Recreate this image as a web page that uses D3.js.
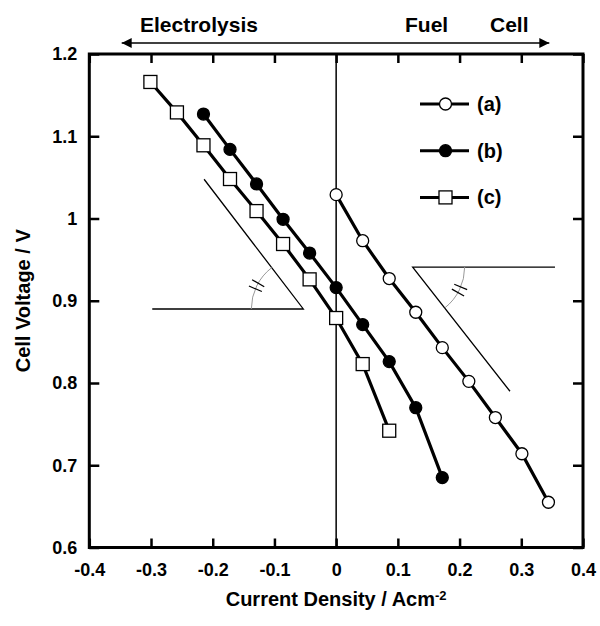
<!DOCTYPE html>
<html lang="en">
<head>
  <meta charset="utf-8">
  <script src="https://cdnjs.cloudflare.com/ajax/libs/d3/7.8.5/d3.min.js"></script>
  <title>Cell Voltage vs Current Density</title>
</head>
<style>
body { margin: 0; background: #fff; }
text { font-family: "Liberation Sans", Arial, Helvetica, sans-serif; font-weight: bold; fill: #000; }
</style>
<body>
<div id="chart"></div>
<script>
  // series (a) open circles
  const currentA = [0, 0.043, 0.086, 0.129, 0.172, 0.215, 0.258, 0.301, 0.344];
  const voltageA = [1.029, 0.973, 0.927, 0.886, 0.843, 0.802, 0.758, 0.714, 0.655];
  // series (b) filled circles
  const currentB = [-0.215, -0.172, -0.129, -0.086, -0.043, 0, 0.043, 0.086, 0.129, 0.172];
  const voltageB = [1.127, 1.084, 1.042, 0.999, 0.958, 0.916, 0.871, 0.826, 0.770, 0.685];
  // series (c) open squares
  const currentC = [-0.301, -0.258, -0.215, -0.172, -0.129, -0.086, -0.043, 0, 0.043, 0.086];
  const voltageC = [1.166, 1.129, 1.089, 1.048, 1.009, 0.969, 0.926, 0.879, 0.823, 0.742];

  const xTicks = [-0.4, -0.3, -0.2, -0.1, 0, 0.1, 0.2, 0.3, 0.4];
  const yTicks = [0.6, 0.7, 0.8, 0.9, 1, 1.1, 1.2];
  const seriesNames = ["(a)", "(b)", "(c)"];

  // slope guides: [far end of hypotenuse, vertex, far end of horizontal], data units
  const slopeLeft = [[-0.214, 1.0477], [-0.0532, 0.89], [-0.298, 0.89]];
  const slopeRight = [[0.2817, 0.790], [0.124, 0.941], [0.3546, 0.941]];

  const width = 600, height = 626;
  const margin = {left: 89.3, right: 17, top: 54, bottom: 78.5};

  const svg = d3.select("#chart").append("svg").attr("width", width).attr("height", height);

  const x = d3.scaleLinear().domain([-0.4, 0.4]).range([margin.left, width - margin.right]);
  const y = d3.scaleLinear().domain([0.6, 1.2]).range([height - margin.bottom, margin.top]);

  const fmt = function(d){ return d === 0 ? "0" : String(+d.toFixed(1)); };

  // axes with inward ticks on all four sides
  svg.append("g").attr("transform", "translate(0," + y(0.6) + ")")
    .call(d3.axisBottom(x).tickValues(xTicks).tickSize(-9).tickPadding(16).tickFormat(fmt))
    .call(function(g){ g.select(".domain").remove(); });
  svg.append("g").attr("transform", "translate(0," + y(1.2) + ")")
    .call(d3.axisTop(x).tickValues(xTicks).tickSize(-9).tickFormat(""))
    .call(function(g){ g.select(".domain").remove(); });
  svg.append("g").attr("transform", "translate(" + x(-0.4) + ",0)")
    .call(d3.axisLeft(y).tickValues(yTicks).tickSize(-10).tickPadding(12).tickFormat(fmt))
    .call(function(g){ g.select(".domain").remove(); });
  svg.append("g").attr("transform", "translate(" + x(0.4) + ",0)")
    .call(d3.axisRight(y).tickValues(yTicks).tickSize(-10).tickFormat(""))
    .call(function(g){ g.select(".domain").remove(); });

  svg.selectAll(".tick line").attr("stroke", "#000").attr("stroke-width", 2.5);
  svg.selectAll(".tick text").style("font-size", "18px").attr("fill", "#000");

  // frame
  svg.append("rect")
    .attr("x", x(-0.4)).attr("y", y(1.2))
    .attr("width", x(0.4) - x(-0.4)).attr("height", y(0.6) - y(1.2))
    .attr("fill", "none").attr("stroke", "#000").attr("stroke-width", 3);

  // zero current line
  svg.append("line")
    .attr("x1", x(0)).attr("x2", x(0)).attr("y1", y(1.2)).attr("y2", y(0.6))
    .attr("stroke", "#000").attr("stroke-width", 1.5);

  // slope guides with angle arc and double hash
  function drawSlope(pts, r){
    const P = pts.map(function(p){ return [x(p[0]), y(p[1])]; });
    svg.append("path")
      .attr("d", "M" + P[0] + "L" + P[1] + "L" + P[2])
      .attr("fill", "none").attr("stroke", "#000").attr("stroke-width", 1.3);
    const v = P[1];
    const a1 = Math.atan2(P[2][1] - v[1], P[2][0] - v[0]);
    let a2 = Math.atan2(P[0][1] - v[1], P[0][0] - v[0]);
    if(a2 - a1 > Math.PI) a2 -= 2 * Math.PI;
    if(a2 - a1 < -Math.PI) a2 += 2 * Math.PI;
    const sweep = a2 > a1 ? 1 : 0;
    const p1 = [v[0] + r * Math.cos(a1), v[1] + r * Math.sin(a1)];
    const p2 = [v[0] + r * Math.cos(a2), v[1] + r * Math.sin(a2)];
    svg.append("path")
      .attr("d", "M" + p1 + "A" + r + "," + r + " 0 0," + sweep + " " + p2)
      .attr("fill", "none").attr("stroke", "#999").attr("stroke-width", 1);
    const am = (a1 + a2) / 2;
    [-0.06, 0.06].forEach(function(da){
      const a = am + da;
      svg.append("line")
        .attr("x1", v[0] + (r - 7) * Math.cos(a)).attr("y1", v[1] + (r - 7) * Math.sin(a))
        .attr("x2", v[0] + (r + 7) * Math.cos(a)).attr("y2", v[1] + (r + 7) * Math.sin(a))
        .attr("stroke", "#000").attr("stroke-width", 1.2);
    });
  }
  drawSlope(slopeLeft, 52);
  drawSlope(slopeRight, 52);

  // series
  const series = [
    {name: seriesNames[0], xs: currentA, ys: voltageA, shape: "circle", fill: "#fff"},
    {name: seriesNames[1], xs: currentB, ys: voltageB, shape: "circle", fill: "#000"},
    {name: seriesNames[2], xs: currentC, ys: voltageC, shape: "square", fill: "#fff"}
  ];

  const line = d3.line().x(function(d){ return x(d[0]); }).y(function(d){ return y(d[1]); });

  function marker(g, shape, fill, cx, cy){
    if(shape === "circle"){
      g.append("circle").attr("cx", cx).attr("cy", cy).attr("r", 6)
        .attr("fill", fill).attr("stroke", "#000").attr("stroke-width", 1.3);
    } else {
      g.append("rect").attr("x", cx - 6.5).attr("y", cy - 6.5).attr("width", 13).attr("height", 13)
        .attr("fill", fill).attr("stroke", "#000").attr("stroke-width", 1.3);
    }
  }

  series.forEach(function(s){
    const pts = s.xs.map(function(v, i){ return [v, s.ys[i]]; });
    svg.append("path").attr("d", line(pts))
      .attr("fill", "none").attr("stroke", "#000").attr("stroke-width", 3.2);
    const g = svg.append("g");
    pts.forEach(function(p){ marker(g, s.shape, s.fill, x(p[0]), y(p[1])); });
  });

  // legend
  const legend = svg.append("g");
  series.forEach(function(s, i){
    const ly = 104 + i * 46.7;
    legend.append("line").attr("x1", 420).attr("x2", 469).attr("y1", ly).attr("y2", ly)
      .attr("stroke", "#000").attr("stroke-width", 3);
    marker(legend, s.shape, s.fill, 445.5, ly);
    legend.append("text").attr("x", 477).attr("y", ly).attr("dy", "0.35em")
      .style("font-size", "20px").text(s.name);
  });

  // top arrow: Electrolysis <-> Fuel Cell
  const defs = svg.append("defs");
  defs.append("marker").attr("id", "ah").attr("viewBox", "0 0 10 10")
    .attr("refX", 10).attr("refY", 5).attr("markerWidth", 14).attr("markerHeight", 10)
    .attr("markerUnits", "userSpaceOnUse").attr("orient", "auto-start-reverse")
    .append("path").attr("d", "M0,0L10,5L0,10Z").attr("fill", "#000");
  svg.append("line").attr("x1", 121.7).attr("x2", 549.3).attr("y1", 43).attr("y2", 43)
    .attr("stroke", "#000").attr("stroke-width", 1.5)
    .attr("marker-start", "url(#ah)").attr("marker-end", "url(#ah)");
  svg.append("text").attr("x", 140).attr("y", 32).style("font-size", "21px").text("Electrolysis");
  svg.append("text").attr("x", 405).attr("y", 32).style("font-size", "21px").text("Fuel");
  svg.append("text").attr("x", 490).attr("y", 32).style("font-size", "21px").text("Cell");

  // axis titles
  const xt = svg.append("text").attr("x", x(0)).attr("y", 606).attr("text-anchor", "middle").style("font-size", "20px");
  xt.append("tspan").text("Current Density / Acm");
  xt.append("tspan").attr("dy", "-0.45em").style("font-size", "13px").text("-2");

  svg.append("text").attr("transform", "translate(30," + y(0.9) + ") rotate(-90)")
    .attr("text-anchor", "middle").style("font-size", "20px").text("Cell Voltage / V");
</script>
</body>
</html>
